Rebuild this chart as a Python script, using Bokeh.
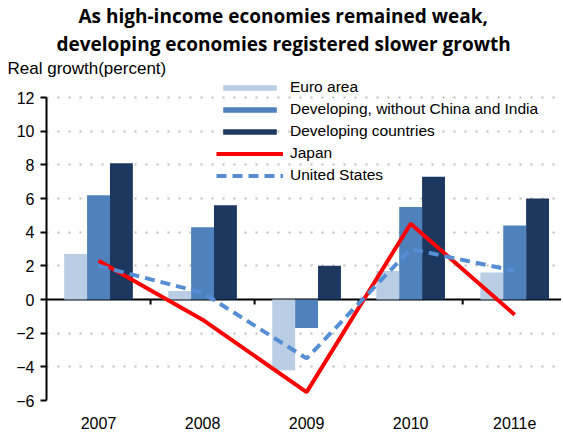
from bokeh.plotting import figure
from bokeh.models import (Range1d, FixedTicker, Span, Legend, LegendItem, Title)
from bokeh.embed import file_html
from bokeh.resources import INLINE

# ---- data ----
years = ["2007", "2008", "2009", "2010", "2011e"]
euro_area = [2.7, 0.5, -4.2, 1.7, 1.6]
dev_ex_china_india = [6.2, 4.3, -1.7, 5.5, 4.4]
developing = [8.1, 5.6, 2.0, 7.3, 6.0]
japan = [2.3, -1.2, -5.5, 4.5, -0.9]
united_states = [2.0, 0.4, -3.5, 3.0, 1.7]
y_ticks = [-6, -4, -2, 0, 2, 4, 6, 8, 10, 12]

title_lines = ["As high-income economies remained weak,",
               "developing economies registered slower growth"]
y_title = "Real growth(percent)"

# ---- styling ----
C_EURO = "#b9cde5"
C_DEVEX = "#4f81bd"
C_DEV = "#1c3760"
C_JP = "#ff0000"
C_US = "#558ed5"
FONT = "Liberation Sans"
TITLE_OFFSETS = [32, 10]

n = len(years)
centers = [i + 0.5 for i in range(n)]
bounds = [float(i) for i in range(1, n)]
bw = 0.22

p = figure(width=561, height=432, output_backend="svg", toolbar_location=None,
           x_range=Range1d(0, 4.95), y_range=Range1d(-6, 13.19),
           min_border_left=46, min_border_right=0, min_border_top=77,
           min_border_bottom=32, title=None)
p.outline_line_color = None

r_euro = p.vbar(x=[c - bw for c in centers], top=euro_area, bottom=0, width=bw,
                fill_color=C_EURO, line_color=None)
r_devex = p.vbar(x=centers, top=dev_ex_china_india, bottom=0, width=bw,
                 fill_color=C_DEVEX, line_color=None)
r_dev = p.vbar(x=[c + bw for c in centers], top=developing, bottom=0, width=bw,
               fill_color=C_DEV, line_color=None)

p.add_layout(Span(location=0, dimension="width", line_color="black", line_width=2,
                  level="underlay"))
p.segment(x0=bounds, y0=[0] * len(bounds), x1=bounds, y1=[-0.3] * len(bounds),
          line_color="black", line_width=2)

r_jp = p.line(x=centers, y=japan, line_color=C_JP, line_width=4)
r_us = p.line(x=centers, y=united_states, line_color=C_US, line_width=4,
              line_dash="10 6")

# axes
yax = p.yaxis[0]
yax.ticker = FixedTicker(ticks=y_ticks)
yax.bounds = (y_ticks[0], y_ticks[-1])
yax.axis_line_color = "black"
yax.axis_line_width = 2
yax.major_tick_out = 6
yax.major_tick_in = 0
yax.major_tick_line_width = 2
yax.minor_tick_line_color = None
yax.major_label_text_font = FONT
yax.major_label_text_font_size = "16px"
yax.major_label_text_color = "black"
yax.major_label_standoff = 6

xax = p.xaxis[0]
xax.ticker = FixedTicker(ticks=centers)
xax.major_label_overrides = {c: y for c, y in zip(centers, years)}
xax.axis_line_color = None
xax.major_tick_line_color = None
xax.minor_tick_line_color = None
xax.major_label_text_font = FONT
xax.major_label_text_font_size = "16px"
xax.major_label_text_color = "black"
xax.major_label_standoff = 10

p.xgrid.grid_line_color = None
p.ygrid.ticker = FixedTicker(ticks=[t for t in y_ticks if t != 0])
p.ygrid.grid_line_color = "#bdbdbd"
p.ygrid.grid_line_width = 2
p.ygrid.grid_line_dash = "2 9"

# legend
legend = Legend(items=[
    LegendItem(label="Euro area", renderers=[r_euro]),
    LegendItem(label="Developing, without China and India", renderers=[r_devex]),
    LegendItem(label="Developing countries", renderers=[r_dev]),
    LegendItem(label="Japan", renderers=[r_jp]),
    LegendItem(label="United States", renderers=[r_us]),
], location=(170, 215), orientation="vertical", margin=0, padding=0,
    spacing=2, label_height=20, glyph_height=7, glyph_width=67,
    label_standoff=7, label_text_font=FONT, label_text_font_size="15.5px",
    label_text_color="black", background_fill_alpha=0, border_line_color=None)
p.add_layout(legend, "center")

# texts (stacked above the frame: first added is closest)
p.add_layout(Title(text=y_title, align="left", offset=-39, standoff=0,
                   text_font=FONT, text_font_size="17px", text_font_style="normal",
                   text_color="black"), "above")
for t, off in reversed(list(zip(title_lines, TITLE_OFFSETS))):
    p.add_layout(Title(text=t, align="left", offset=off, standoff=0,
                       text_font="Open Sans", text_font_style="bold",
                       text_font_size="19px", text_color="black"), "above")

open("out.html", "w").write(file_html(p, INLINE))
